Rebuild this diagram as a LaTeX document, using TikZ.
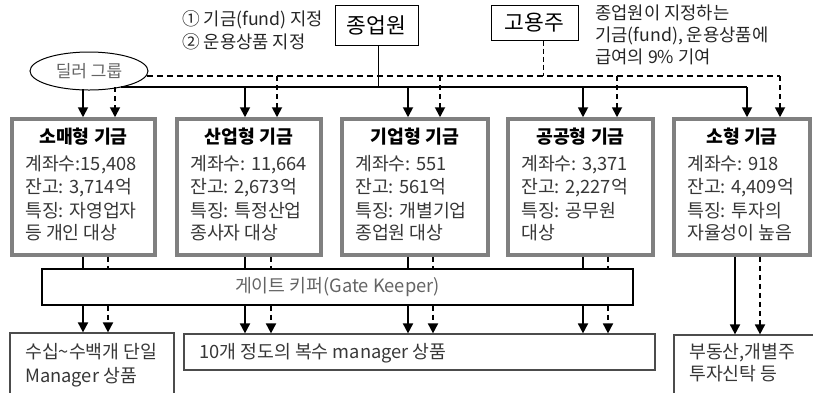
\documentclass[tikz,border=0pt]{standalone}
\usepackage{fontspec}
\setmainfont{Noto Sans CJK KR}
\usetikzlibrary{arrows.meta,shapes.geometric}
\definecolor{boxgray}{RGB}{128,128,128}
\definecolor{txt}{RGB}{55,55,55}
\definecolor{gtxt}{RGB}{100,100,100}
\tikzset{
  fundbox/.style={draw=boxgray,line width=3.5pt,inner sep=0pt},
  plainbox/.style={draw=black,line width=1pt,inner sep=0pt},
  prodbox/.style={draw=black!70,line width=1.2pt,inner sep=0pt},
  tb/.style={inner sep=0pt,text height=0.9em,text depth=0.1em,yshift=-1.5pt},
  ft/.style={tb,font=\fontsize{18.3}{20}\selectfont,text=txt,anchor=west},
  fttitle/.style={tb,font=\fontsize{18.3}{20}\bfseries\selectfont,text=black},
  annot/.style={tb,font=\fontsize{17.7}{20}\selectfont,text=black!85,anchor=west},
  sar/.style={line width=1.8pt,-{Triangle[width=10pt,length=10pt]}},
  dar/.style={line width=1.8pt,dash pattern=on 5pt off 4pt,-{Triangle[width=10pt,length=10pt]}},
  sln/.style={line width=1.8pt},
  dln/.style={line width=1.8pt,dash pattern=on 5pt off 4pt},
  hsl/.style={line width=1.2pt},
  hdl/.style={line width=1.2pt,dash pattern=on 6pt off 4pt},
}
\begin{document}
\begin{tikzpicture}[x=1pt,y=-1pt]
\useasboundingbox (0,0) rectangle (813,392);
% top boxes
\node[plainbox,minimum width=83pt,minimum height=40pt,font=\fontsize{21.5}{23}\selectfont] (emp) at (376.5,25) {종업원};
\node[plainbox,minimum width=87pt,minimum height=35pt,font=\fontsize{21.5}{23}\selectfont] (boss) at (534.5,22.5) {고용주};
\node[draw=black,line width=1pt,ellipse,minimum width=118pt,minimum height=38pt,inner sep=0pt,font=\fontsize{17}{19}\selectfont,text=gtxt] (dealer) at (89,71) {딜러 그룹};
% annotations
\node[annot] (a1) at (182,20) {① 기금(fund) 지정};
\node[annot] (a2) at (182,43) {② 운용상품 지정};
\node[annot] (r1) at (595,14) {종업원이 지정하는};
\node[annot] (r2) at (595,36) {기금(fund), 운용상품에};
\node[annot] (r3) at (595,58) {급여의 9\% 기여};
% fund boxes
\node[fundbox,minimum width=143pt,minimum height=136pt] (f1) at (83.5,187) {};
\node[fundbox,minimum width=144pt,minimum height=136pt] (f2) at (249,187) {};
\node[fundbox,minimum width=146pt,minimum height=136pt] (f3) at (415,187) {};
\node[fundbox,minimum width=145pt,minimum height=136pt] (f4) at (580.5,187) {};
\node[fundbox,minimum width=136pt,minimum height=136pt] (f5) at (742,187) {};
% titles
\coordinate (ty) at (0,138);
\node[fttitle] (t1) at (f1.center |- ty) {소매형 기금};
\node[fttitle] (t2) at (f2.center |- ty) {산업형 기금};
\node[fttitle] (t3) at (f3.center |- ty) {기업형 기금};
\node[fttitle] (t4) at (f4.center |- ty) {공공형 기금};
\node[fttitle] (t5) at (f5.center |- ty) {소형 기금};
% box texts
\node[ft] (c1a) at (25,165) {계좌수:15,408};
\node[ft] (c1b) at (25,188) {잔고: 3,714억};
\node[ft] (c1c) at (25,212) {특징: 자영업자};
\node[ft] (c1d) at (25,234) {등 개인 대상};
\node[ft] (c2a) at (190,165) {계좌수: 11,664};
\node[ft] (c2b) at (190,188) {잔고: 2,673억};
\node[ft] (c2c) at (190,212) {특징: 특정산업};
\node[ft] (c2d) at (190,234) {종사자 대상};
\node[ft] (c3a) at (355,165) {계좌수: 551};
\node[ft] (c3b) at (355,188) {잔고: 561억};
\node[ft] (c3c) at (355,212) {특징: 개별기업};
\node[ft] (c3d) at (355,234) {종업원 대상};
\node[ft] (c4a) at (521,165) {계좌수: 3,371};
\node[ft] (c4b) at (521,188) {잔고: 2,227억};
\node[ft] (c4c) at (521,212) {특징: 공무원};
\node[ft] (c4d) at (521,234) {대상};
\node[ft] (c5a) at (687,165) {계좌수: 918};
\node[ft] (c5b) at (687,188) {잔고: 4,409억};
\node[ft] (c5c) at (687,212) {특징: 투자의};
\node[ft] (c5d) at (687,234) {자율성이 높음};
% gatekeeper
\node[plainbox,line width=1.2pt,minimum width=591pt,minimum height=36pt] (gk) at (337.5,287) {};
\node[tb,font=\fontsize{18.3}{20}\selectfont,text=gtxt] (gkt) at (gk.center) {게이트 키퍼(Gate Keeper)};
% bottom boxes
\node[prodbox,minimum width=164pt,minimum height=70pt] (b1) at (92,368) {};
\node[prodbox,minimum width=471pt,minimum height=36pt] (b2) at (419.5,352) {};
\node[prodbox,minimum width=150pt,minimum height=70pt] (b3) at (749,370) {};
\node[ft] (b1a) at (25,353) {수십\textasciitilde 수백개 단일};
\node[ft] (b1b) at (25,377) {Manager 상품};
\node[ft] (b2a) at (199,353) {10개 정도의 복수 manager 상품};
\node[ft] (b3a) at (689,353) {부동산,개별주};
\node[ft] (b3b) at (689,375) {투자신탁 등};
% tap coordinates
\coordinate (sL) at (121,87);
\coordinate (sR) at (747,87);
\coordinate (dL) at (147,76);
\coordinate (dR) at (780,76);
\coordinate (e1) at (378,87);
\coordinate (e2) at (543,76);
% horizontal lines
\draw[hsl] (sL) -- (sR);
\draw[hdl] (dL) -- (dR);
\draw[line width=1pt] (emp.south -| e1) -- (e1);
\draw[line width=1pt,dash pattern=on 5pt off 3pt] (boss.south -| e2) -- (e2);
% arrows into fund boxes
\coordinate (s1) at (83,89);
\coordinate (d1) at (115,87);
\draw[sar] (s1) -- (s1 |- f1.north);
\draw[dar] (d1) -- (d1 |- f1.north);
\coordinate (s2) at (245,87); \coordinate (d2) at (277,76);
\coordinate (s3) at (408,87); \coordinate (d3) at (440,76);
\coordinate (s4) at (583,87); \coordinate (d4) at (617,76);
\coordinate (s5) at (747,87); \coordinate (d5) at (780,76);
\draw[sar] (s2) -- (s2 |- f2.north);
\draw[dar] (d2) -- (d2 |- f2.north);
\draw[sar] (s3) -- (s3 |- f3.north);
\draw[dar] (d3) -- (d3 |- f3.north);
\draw[sar] (s4) -- (s4 |- f4.north);
\draw[dar] (d4) -- (d4 |- f4.north);
\draw[sar] (s5) -- (s5 |- f5.north);
\draw[dar] (d5) -- (d5 |- f5.north);
% below fund boxes to gatekeeper
\coordinate (u1) at (83,0); \coordinate (v1) at (108,0);
\coordinate (u2) at (245,0); \coordinate (v2) at (271,0);
\coordinate (u3) at (408,0); \coordinate (v3) at (433,0);
\coordinate (u4) at (583,0); \coordinate (v4) at (608,0);
\coordinate (u5) at (735,0); \coordinate (v5) at (760,0);
\draw[sln] (u1 |- f1.south) -- (u1 |- gk.north);
\draw[dln] (v1 |- f1.south) -- (v1 |- gk.north);
\draw[sln] (u2 |- f2.south) -- (u2 |- gk.north);
\draw[dln] (v2 |- f2.south) -- (v2 |- gk.north);
\draw[sln] (u3 |- f3.south) -- (u3 |- gk.north);
\draw[dln] (v3 |- f3.south) -- (v3 |- gk.north);
\draw[sln] (u4 |- f4.south) -- (u4 |- gk.north);
\draw[dln] (v4 |- f4.south) -- (v4 |- gk.north);
% gatekeeper to products
\draw[sar] (u1 |- gk.south) -- (u1 |- b1.north);
\draw[dar] (v1 |- gk.south) -- (v1 |- b1.north);
\draw[sar] (u2 |- gk.south) -- (u2 |- b2.north);
\draw[dar] (v2 |- gk.south) -- (v2 |- b2.north);
\draw[sar] (u3 |- gk.south) -- (u3 |- b2.north);
\draw[dar] (v3 |- gk.south) -- (v3 |- b2.north);
\draw[sar] (u4 |- gk.south) -- (u4 |- b2.north);
\draw[dar] (v4 |- gk.south) -- (v4 |- b2.north);
% small fund direct
\draw[sar] (u5 |- f5.south) -- (u5 |- b3.north);
\draw[dar] (v5 |- f5.south) -- (v5 |- b3.north);
\end{tikzpicture}
\end{document}
